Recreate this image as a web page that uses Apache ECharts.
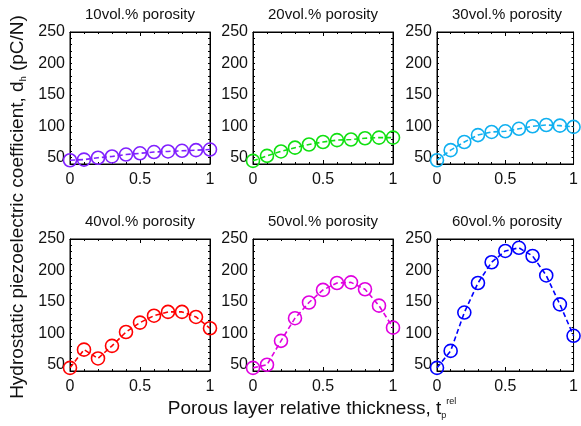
<!DOCTYPE html>
<html><head><meta charset="utf-8">
<script src="https://cdn.jsdelivr.net/npm/echarts@6/dist/echarts.min.js"></script>
<style>html,body{margin:0;padding:0;background:#fff}#c{width:581px;height:426px}</style>
</head><body><div id="c"></div>
<script>
// ---- data ----
const xValues = [0, 0.1, 0.2, 0.3, 0.4, 0.5, 0.6, 0.7, 0.8, 0.9, 1];
const panelTitles = ['10vol.% porosity', '20vol.% porosity', '30vol.% porosity',
                     '40vol.% porosity', '50vol.% porosity', '60vol.% porosity'];
const porosity10 = [46, 47, 50, 52, 55, 57, 59, 60, 61, 62, 63];
const porosity20 = [45, 53, 60, 66, 71, 75, 78, 79, 81, 82, 82];
const porosity30 = [46, 62, 75, 86, 91, 92, 96, 100, 102, 101, 99];
const porosity40 = [45, 74, 60, 80, 102, 117, 128, 134, 134, 126, 108];
const porosity50 = [45, 50, 88, 124, 149, 169, 180, 181, 170, 144, 109];
const porosity60 = [45, 72, 133, 180, 213, 231, 236, 223, 192, 146, 96];
const yTickLabels = [50, 100, 150, 200, 250];
const xTickLabels = [0, 0.5, 1];
const yTitle = 'Hydrostatic piezoelectric coefficient, d';
const xTitle = 'Porous layer relative thickness, t';

// ---- layout / style ----
const seriesData = [porosity10, porosity20, porosity30, porosity40, porosity50, porosity60];
const colors = ['#8020ff', '#10e010', '#10b0f0', '#ff0000', '#e000e0', '#0000ff'];
const colLeft = [70, 253, 437];
const rowTop = [32, 239];
const gw = 140, gh = 132;
const FONT = 'Arial, "Liberation Sans", Helvetica, sans-serif';

const grids = [], xAxes = [], yAxes = [], series = [], graphics = [];
for (let i = 0; i < 6; i++) {
  const r = Math.floor(i / 3), c = i % 3;
  grids.push({left: colLeft[c], top: rowTop[r], width: gw, height: gh,
              show: true, borderColor: '#000', borderWidth: 1, backgroundColor: '#fff'});
  const baseX = {gridIndex: i, type: 'value', min: 0, max: 1, interval: 0.5,
    splitLine: {show: false},
    axisLine: {show: true, onZero: false, lineStyle: {color: '#000', width: 1}},
    axisTick: {show: true, inside: true, length: 4, lineStyle: {color: '#000'}},
    minorTick: {show: true, splitNumber: 5, length: 2, lineStyle: {color: '#000'}}};
  xAxes.push(Object.assign({}, baseX, {position: 'bottom',
    axisLabel: {show: true, margin: 8, fontSize: 16, color: '#111', fontFamily: FONT,
      customValues: xTickLabels, formatter: v => String(v)}}));
  xAxes.push(Object.assign({}, baseX, {position: 'top', axisLabel: {show: false}}));
  const baseY = {gridIndex: i, type: 'value', min: 40, max: 250, interval: 10,
    splitLine: {show: false},
    axisLine: {show: true, onZero: false, lineStyle: {color: '#000', width: 1}},
    axisTick: {show: true, inside: true, length: 2, lineStyle: {color: '#000'}}};
  yAxes.push(Object.assign({}, baseY, {position: 'left',
    axisLabel: {show: true, margin: 5, fontSize: 16, color: '#111', fontFamily: FONT,
      customValues: yTickLabels}}));
  yAxes.push(Object.assign({}, baseY, {position: 'right', axisLabel: {show: false}}));
  series.push({type: 'line', xAxisIndex: 2 * i, yAxisIndex: 2 * i,
    data: xValues.map((x, k) => [x, seriesData[i][k]]),
    symbol: 'circle', symbolSize: 13,
    itemStyle: {color: 'rgba(0,0,0,0)', borderColor: colors[i], borderWidth: 1.6},
    lineStyle: {color: colors[i], width: 1.6, type: [5, 3]},
    color: colors[i], animation: false, z: 3});
  graphics.push({type: 'text', x: colLeft[c] + gw / 2, y: r === 0 ? 15 : 222,
    style: {text: panelTitles[i], fontSize: 15, fontFamily: FONT, fill: '#111',
            align: 'center', verticalAlign: 'middle'}});
}

graphics.push({type: 'text', x: 18, y: 207, rotation: Math.PI / 2,
  style: {text: '{n|' + yTitle + '}{s|h}{n| (pC/N)}', align: 'center', verticalAlign: 'middle',
    fontFamily: FONT, fill: '#111',
    rich: {n: {fontSize: 19, fontFamily: FONT, lineHeight: 26, verticalAlign: 'middle'},
           s: {fontSize: 9, fontFamily: FONT, lineHeight: 26, verticalAlign: 'bottom', padding: [0, 0, 3, 0]}}}});
graphics.push({type: 'text', x: 312, y: 409,
  style: {text: '{n|' + xTitle + '}{s|p}{p|rel}', align: 'center', verticalAlign: 'middle',
    fontFamily: FONT, fill: '#111',
    rich: {n: {fontSize: 19, fontFamily: FONT, lineHeight: 28, verticalAlign: 'middle'},
           s: {fontSize: 9, fontFamily: FONT, lineHeight: 28, verticalAlign: 'bottom', padding: [0, 0, 3, 0]},
           p: {fontSize: 9, fontFamily: FONT, lineHeight: 28, verticalAlign: 'top', padding: [2, 0, 0, 0]}}}});

const chart = echarts.init(document.getElementById('c'), null, {renderer: 'canvas'});
chart.setOption({
  animation: false,
  backgroundColor: '#fff',
  grid: grids, xAxis: xAxes, yAxis: yAxes, series: series, graphic: graphics
});
</script></body></html>
